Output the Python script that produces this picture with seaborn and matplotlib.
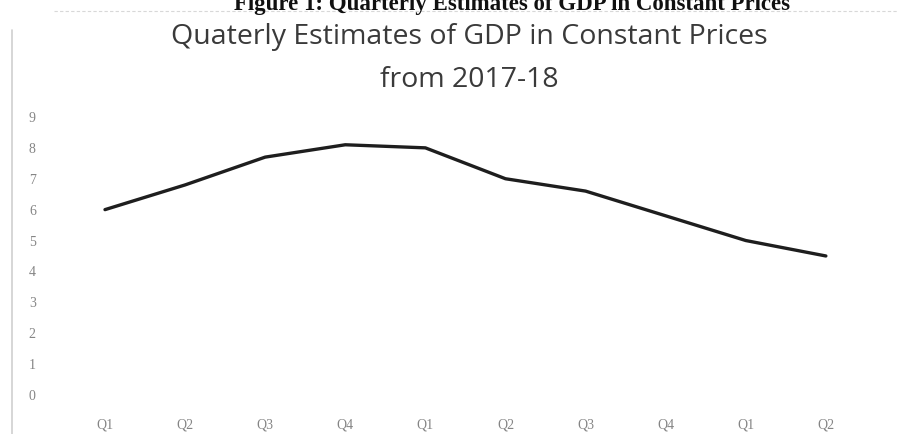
import matplotlib
matplotlib.use("Agg")
import matplotlib.pyplot as plt
import seaborn as sns
import pandas as pd
from matplotlib.lines import Line2D

# Quarterly GDP growth estimates (constant prices), 2017-18 to 2019-20
quarters = ["Q1", "Q2", "Q3", "Q4", "Q1", "Q2", "Q3", "Q4", "Q1", "Q2"]
growth = [6.0, 6.8, 7.7, 8.1, 8.0, 7.0, 6.6, 5.8, 5.0, 4.5]
y_ticks = [0, 1, 2, 3, 4, 5, 6, 7, 8, 9]

df = pd.DataFrame({"pos": range(len(quarters)), "growth": growth})

sns.set_theme(style="white")
plt.rcParams["font.family"] = ["Open Sans", "DejaVu Sans"]

fig = plt.figure(figsize=(9.02, 4.34), dpi=100)
ax = fig.add_axes([0.072, 0.0899, 0.888, 0.6406])

sns.lineplot(data=df, x="pos", y="growth", ax=ax, color="#1e1e1e",
             linewidth=2.4, legend=False)

ax.set_xlim(-0.5, len(quarters) - 0.5)
ax.set_ylim(0, 9)
ax.set_xticks(range(len(quarters)))
ax.set_xticklabels(quarters)
ax.set_yticks(y_ticks)
ax.set_xlabel("")
ax.set_ylabel("")
for s in ax.spines.values():
    s.set_visible(False)
ax.tick_params(axis="both", length=0, colors="#858585", labelsize=10)
ax.tick_params(axis="y", pad=21)
ax.tick_params(axis="x", pad=17)
for lbl in ax.get_xticklabels() + ax.get_yticklabels():
    lbl.set_fontfamily(["Liberation Serif", "DejaVu Serif"])

# Caption of the figure, clipped by the top edge
fig.text(0.568, 1 - 10 / 434, "Figure 1: Quarterly Estimates of GDP in Constant Prices",
         ha="center", va="baseline", fontsize=16.5, fontweight="bold",
         family=["Liberation Serif", "DejaVu Serif"], color="#111111")

# Chart title
fig.text(0.52, 1 - 44 / 434, "Quaterly Estimates of GDP in Constant Prices",
         ha="center", va="baseline", fontsize=20.5, color="#3a3a3a")
fig.text(0.52, 1 - 87 / 434, "from 2017-18",
         ha="center", va="baseline", fontsize=20.5, color="#3a3a3a")

# Faint border of the chart box
fig.add_artist(Line2D([0.0135, 0.0135], [0.0, 0.93], transform=fig.transFigure,
                      color="#d0d0d0", linewidth=1.2))
fig.add_artist(Line2D([0.06, 0.995], [0.975, 0.975], transform=fig.transFigure,
                      color="#d8d8d8", linewidth=0.8, linestyle=(0, (3, 2))))

fig.savefig("out.png", dpi=100)
